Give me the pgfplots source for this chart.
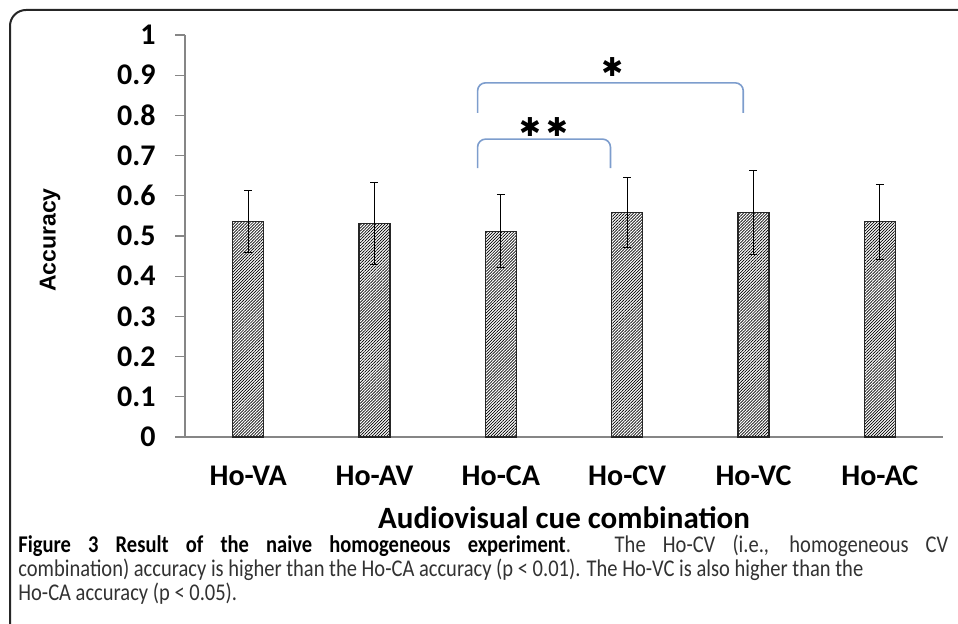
\documentclass[border=0pt]{standalone}
\usepackage{pgfplots}
\pgfplotsset{compat=1.18}
\usepackage{pgfplotstable}
\usepackage{fontspec}
\usepackage{graphicx}
\setmainfont{Carlito}
\newfontfamily\arialf{Liberation Sans}
\newfontfamily\dejavu{DejaVu Sans}
\usetikzlibrary{patterns.meta}
\definecolor{axgray}{RGB}{134,134,134}
\definecolor{brblue}{RGB}{125,157,205}
\definecolor{captxt}{RGB}{50,50,50}

\pgfplotstableread{
x y e
0 0.537 0.077
1 0.531 0.102
2 0.512 0.090
3 0.558 0.087
4 0.558 0.104
5 0.535 0.093
}\acc

\newlength\Ltwo
\newlength\Lone
\newcommand\capsize{\fontsize{12}{13}\selectfont}
\newcommand\linetwo{combination) accuracy is higher than the Ho-CA accuracy (p < 0.01). The Ho-VC is also higher than the}

\begin{document}%
\settowidth\Ltwo{\capsize\linetwo}%
\pgfmathsetmacro\capscale{422.5/\Ltwo}%
\pgfmathsetlength\Lone{465pt/\capscale}%
\begin{tikzpicture}
\useasboundingbox (0,0) rectangle (479pt,312pt);
\begin{scope}
\clip (0,0) rectangle (479pt,312pt);
\draw[line width=1pt, black!85, rounded corners=8pt] (520pt,307pt) -- (5pt,307pt) -- (5pt,-30pt);
\end{scope}

\begin{axis}[
  scale only axis, width=379pt, height=201pt,
  at={(92.5pt,93.5pt)}, anchor=south west,
  xmin=-0.5, xmax=5.5, ymin=0, ymax=1,
  axis x line*=bottom, axis y line*=left,
  axis line style={draw=axgray, line width=0.6pt, -},
  tick align=outside, major tick length=5pt,
  ytick={0,0.1,0.2,0.3,0.4,0.5,0.6,0.7,0.8,0.9,1},
  yticklabels={0,0.1,0.2,0.3,0.4,0.5,0.6,0.7,0.8,0.9,1},
  ytick style={draw=axgray, line width=0.6pt},
  xtick={0,1,2,3,4,5},
  xticklabels={Ho-VA,Ho-AV,Ho-CA,Ho-CV,Ho-VC,Ho-AC},
  xtick style={draw=none},
  yticklabel style={font=\bfseries\fontsize{15}{18}\selectfont, anchor=east, inner sep=0pt, xshift=-9.5pt},
  xticklabel style={font=\bfseries\fontsize{15}{18}\selectfont, anchor=center, inner sep=0pt, yshift=-14.5pt},
  xlabel={Audiovisual cue combination},
  xlabel style={font=\bfseries\fontsize{15.5}{18}\selectfont, at={(axis description cs:0.5,0)}, anchor=center, yshift=-40.5pt, inner sep=0pt},
  clip=false,
]
\addplot[ybar, bar width=15.5pt, draw=black!85, line width=0.55pt,
  pattern={Lines[angle=45,distance=1.05pt,line width=0.35pt]}, pattern color=black,
  error bars/.cd, y dir=both, y explicit,
  error bar style={black, line width=0.5pt},
  error mark=|, error mark options={black, line width=0.5pt, mark size=2pt}]
  table[x=x, y=y, y error=e]{\acc};
\draw[brblue, line width=0.8pt, rounded corners=4pt] (axis cs:1.816,0.806) -- (axis cs:1.816,0.881) -- (axis cs:3.919,0.881) -- (axis cs:3.919,0.806);
\draw[brblue, line width=0.8pt, rounded corners=4pt] (axis cs:1.816,0.669) -- (axis cs:1.816,0.741) -- (axis cs:2.868,0.741) -- (axis cs:2.868,0.669);
\node[inner sep=0pt] at (axis cs:2.883,0.920) {\dejavu\fontsize{13}{13}\selectfont ✱};
\node[inner sep=0pt] at (axis cs:2.338,0.772) {\dejavu\fontsize{13}{13}\selectfont ✱\kern2.5pt✱};
\node[rotate=90, inner sep=0pt, font=\arialf\bfseries\fontsize{11.5}{14}\selectfont] at (axis description cs:-0.178,0.49) {Accuracy};
\end{axis}

\node[anchor=base west, inner sep=0pt, color=captxt] at (9pt,35.5pt) {\scalebox{\capscale}[1]{\makebox[\Lone][s]{\capsize \textcolor{black}{\textbf{Figure 3 Result of the naive homogeneous experiment}}. The Ho-CV (i.e., homogeneous CV}}};
\node[anchor=base west, inner sep=0pt, color=captxt] at (9pt,23.5pt) {\scalebox{\capscale}[1]{\capsize\linetwo}};
\node[anchor=base west, inner sep=0pt, color=captxt] at (9pt,11.5pt) {\scalebox{\capscale}[1]{\capsize Ho-CA accuracy (p < 0.05).}};
\end{tikzpicture}%
\end{document}
